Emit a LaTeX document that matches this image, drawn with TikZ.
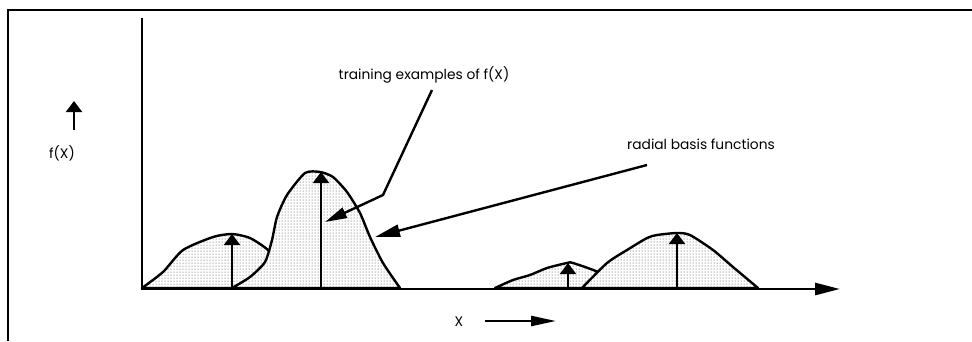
\documentclass[tikz,border=0pt]{standalone}
\usepackage{fontspec}
\setmainfont{Poppins}
\usetikzlibrary{arrows.meta,patterns}
\begin{document}
\begin{tikzpicture}[x=1pt,y=-1pt,
  bump/.style={line width=2.4pt, line join=round, preaction={fill=white}, pattern=dots, pattern color=black!75},
  up/.style={line width=2.2pt, -{Triangle[length=11pt,width=16pt]}},
  pointer/.style={line width=2.4pt, -{Triangle[length=22pt,width=11pt]}},
  lbl/.style={font=\fontsize{13.8}{16}\selectfont, inner sep=0pt}]
\useasboundingbox (0,0) rectangle (972,341);
% frame
\draw[line width=2.4pt] (8,341) -- (8,10) -- (972,10);
% bumps
\draw[bump] plot[smooth,tension=0.4] coordinates {(142,288) (163,272) (183,250) (213,237) (232,234) (250,238) (268,250) (285,270) (295,288)} -- cycle;
\draw[bump] plot[smooth,tension=0.4] coordinates {(232,288) (250,277) (265,262) (272,240) (277,217) (287,195) (305,173) (320,172) (333,177) (347,192) (360,213) (370,237) (383,263) (400,288)} -- cycle;
\draw[bump] plot[smooth,tension=0.4] coordinates {(495,288) (513,280) (530,275) (547,268) (567,263) (573,263) (600,273) (615,288)} -- cycle;
\draw[bump] plot[smooth,tension=0.4] coordinates {(582,288) (607,263) (627,250) (647,238) (657,235) (677,233) (690,235) (713,250) (733,267) (758,288)} -- cycle;
% training examples
\coordinate (b1) at (232,288); \coordinate (p1) at (232,234);
\coordinate (b2) at (321,288); \coordinate (p2) at (321,172);
\coordinate (b3) at (568,288); \coordinate (p3) at (568,263);
\coordinate (b4) at (677,288); \coordinate (p4) at (677,233);
\draw[up] (b1) -- (p1);
\draw[up] (b2) -- (p2);
\draw[up] (b3) -- (p3);
\draw[up] (b4) -- (p4);
% axes
\coordinate (o) at (141,289);
\coordinate (ytop) at (142,18);
\coordinate (xend) at (840,289);
\draw[line width=2.4pt] (ytop) -- (142,289);
\draw[line width=2.8pt, -{Triangle[length=25pt,width=12pt]}] (o) -- (xend);
% labels
\node[lbl] (fx) at (62,153) {f(X)};
\coordinate (fxa) at (74,130); \coordinate (fxb) at (74,101);
\draw[up] (fxa) -- (fxb);
\node[lbl] (xl) at (459,322) {X};
\coordinate (xa) at (485,321); \coordinate (xb) at (556,321);
\draw[line width=2.4pt, -{Triangle[length=25pt,width=10pt]}] (xa) -- (xb);
\node[lbl] (te) at (424,75) {training examples of f(X)};
\node[lbl] (rb) at (701,144) {radial basis functions};
\coordinate (te1) at (432,90); \coordinate (te2) at (383,195); \coordinate (te3) at (325,222);
\draw[pointer] (te1) -- (te2) -- (te3);
\coordinate (rb1) at (647,165); \coordinate (rb2) at (375,237);
\draw[pointer, -{Triangle[length=25pt,width=12pt]}] (rb1) -- (rb2);
\end{tikzpicture}
\end{document}
